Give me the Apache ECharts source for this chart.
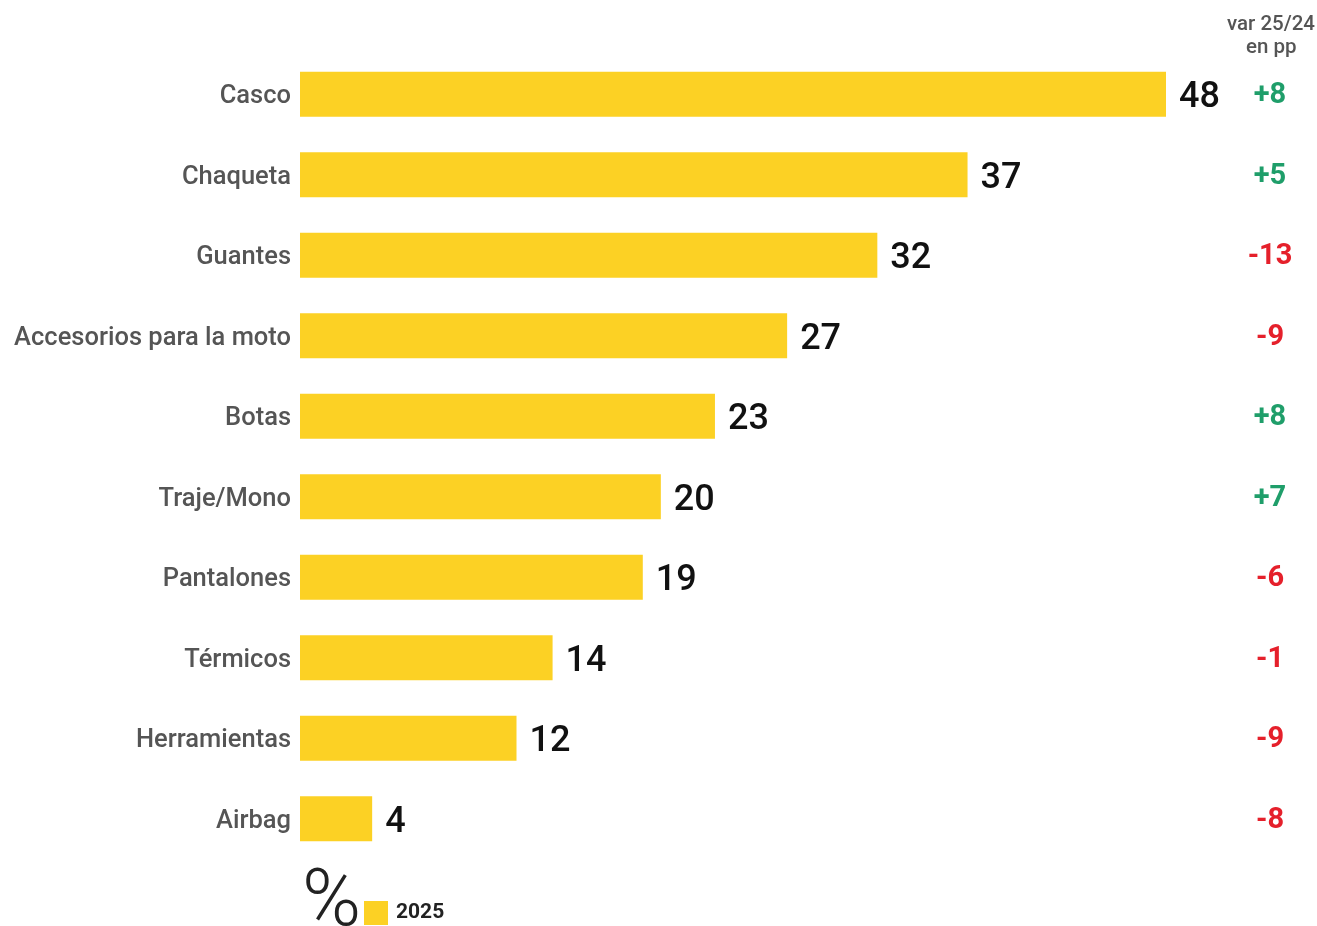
<!DOCTYPE html>
<html>
<head>
<meta charset="utf-8">
<script src="https://cdn.jsdelivr.net/npm/echarts@6/dist/echarts.min.js"></script>
<style>
html,body{margin:0;padding:0;background:#fff;}
#chart{width:1317px;height:926px;}
</style>
</head>
<body>
<div id="chart"></div>
<script>
const categories = ["Casco","Chaqueta","Guantes","Accesorios para la moto","Botas","Traje/Mono","Pantalones","Térmicos","Herramientas","Airbag"];
const values2025 = [48,37,32,27,23,20,19,14,12,4];
const variation = ["+8","+5","-13","-9","+8","+7","-6","-1","-9","-8"];
const seriesName = "2025";

const chart = echarts.init(document.getElementById('chart'));
chart.setOption({
  animation:false,
  grid:{left:300, right:151, top:54, bottom:67, containLabel:false},
  xAxis:{type:'value', min:0, max:48, show:false},
  yAxis:[{
    type:'category', data:categories, inverse:true,
    axisLine:{show:false}, axisTick:{show:false},
    axisLabel:{margin:9,
      formatter:function(v){return '{c|'+v+'}';},
      rich:{c:{color:'#555', fontSize:25.5, fontFamily:'Roboto', fontWeight:500, padding:[5,0,0,0]}}}
  },{
    type:'category', data:variation, inverse:true, position:'right',
    axisLine:{show:false}, axisTick:{show:false},
    axisLabel:{margin:104, align:'center',
      formatter:function(v){return v.charAt(0)==='+' ? '{g|'+v+'}' : '{r|'+v+'}';},
      rich:{
        g:{color:'#1f9e6a', fontSize:29, fontWeight:'bold', fontFamily:'Roboto', padding:[3,0,0,0]},
        r:{color:'#e5202b', fontSize:29, fontWeight:'bold', fontFamily:'Roboto', padding:[3,0,0,0]}
      }}
  }],
  legend:{left:364, top:901, padding:0, itemWidth:24, itemHeight:24, itemGap:8, icon:'rect',
    textStyle:{fontSize:21, fontWeight:'bold', color:'#222', fontFamily:'Roboto', padding:[4,0,0,3]},
    data:[seriesName]},
  graphic:[
    {type:'text', left:1227, top:14, style:{text:'var 25/24', fontSize:20.5, fill:'#555', fontFamily:'Roboto', fontWeight:500}},
    {type:'text', left:1246, top:37, style:{text:'en pp', fontSize:20.5, fill:'#555', fontFamily:'Roboto', fontWeight:500}},
    {type:'text', left:302, top:865, style:{text:'%', fontSize:80, fill:'#222', fontFamily:'Roboto', fontWeight:300}}
  ],
  series:[{
    name:seriesName, type:'bar', data:values2025, barWidth:45,
    itemStyle:{color:'#FCD124'},
    label:{show:true, position:'right', distance:13, color:'#111', fontSize:36, fontFamily:'Roboto', fontWeight:500, offset:[0,4]}
  }]
});
</script>
</body>
</html>
